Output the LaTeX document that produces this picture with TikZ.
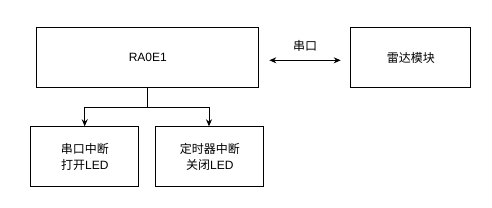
\documentclass[tikz,border=0pt]{standalone}
\usepackage{fontspec}
\setmainfont{Liberation Sans}
\newfontfamily\cjk{Noto Sans CJK SC}
\usetikzlibrary{arrows.meta}
\begin{document}
\begin{tikzpicture}[x=1pt,y=-1pt,
  box/.style={draw,line width=1pt,inner sep=0pt,anchor=north west,align=center,font=\fontsize{12}{16}\selectfont},
  conn/.style={line width=1pt,-{Stealth[length=7pt,width=6pt]}},
  biconn/.style={line width=1pt,{Stealth[length=7pt,width=6pt]}-{Stealth[length=7pt,width=6pt]}}]
\useasboundingbox (0,0) rectangle (492,207);
\node[box,minimum width=222pt,minimum height=60pt] (mcu) at (36.3,27.3) {RA0E1};
\node[box,minimum width=120pt,minimum height=60pt] (radar) at (350.3,27.3) {\cjk 雷达模块};
\node[box,minimum width=108pt,minimum height=60pt] (uart) at (30.3,126.3) {{\cjk 串口中断}\\{\cjk 打开}LED};
\node[box,minimum width=108pt,minimum height=60pt] (tmr) at (155.3,126.3) {{\cjk 定时器中断}\\{\cjk 关闭}LED};
\coordinate (split) at (147.3,107);
\coordinate (bl) at (269.3,60.3);
\coordinate (br) at (340.7,60.3);
\draw[biconn] (bl) -- node[above=5pt,font=\fontsize{12}{14}\selectfont\cjk] (lbl) {串口} (br);
\draw[line width=1pt] (mcu.south -| split) -- (split);
\draw[conn] (split) -| (uart.north -| 84.7,0);
\draw[conn] (split) -| (tmr.north -| 209,0);
\end{tikzpicture}
\end{document}
